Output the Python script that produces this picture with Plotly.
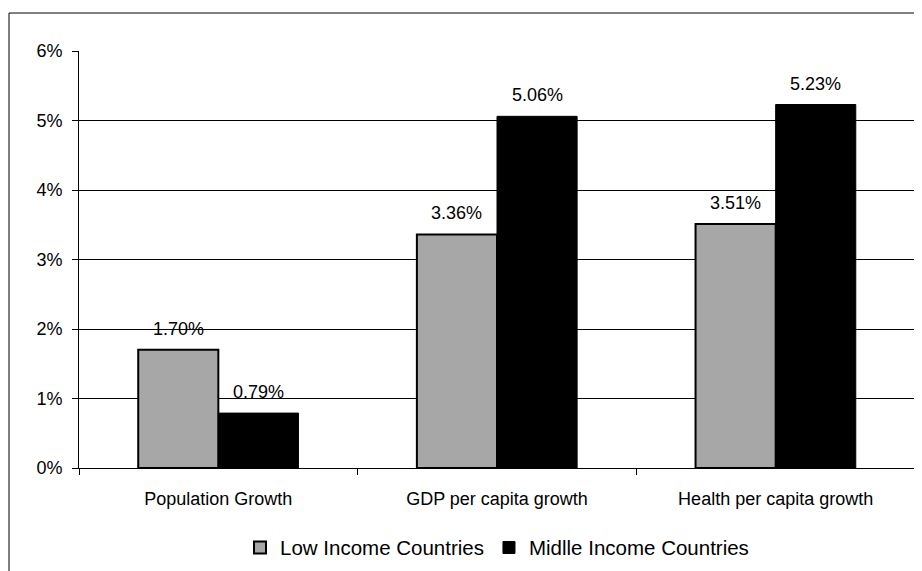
import plotly.graph_objects as go

categories = ["Population Growth", "GDP per capita growth", "Health per capita growth"]
low_income = [0.0170, 0.0336, 0.0351]
middle_income = [0.0079, 0.0506, 0.0523]
series_names = ["Low Income Countries", "Midlle Income Countries"]

# page has an 8px body margin, so the figure is 8px smaller than the window
W, H = 914, 563
L, R, T, B = 71, 7, 43, 103
pw, ph = W - L - R, H - T - B
BARGAP = 0.425
bar_px = pw / len(categories) * (1 - BARGAP) / 2

font = dict(family="Liberation Sans, Arial, sans-serif", size=18, color="black")
legend_font = dict(family="Liberation Sans, Arial, sans-serif", size=20.5, color="black")

fig = go.Figure()
fig.add_trace(go.Bar(
    x=categories, y=low_income, name=series_names[0],
    marker=dict(color="white", line=dict(color="black", width=2),
                pattern=dict(shape=".", fgcolor="#000000", bgcolor="#ffffff", size=2, solidity=0.65)),
))
fig.add_trace(go.Bar(
    x=categories, y=middle_income, name=series_names[1],
    marker=dict(color="black", line=dict(color="black", width=1)),
))

annotations = []
for series, side in ((low_income, -1), (middle_income, 1)):
    for c, v in zip(categories, series):
        annotations.append(dict(
            x=c, y=v, xref="x", yref="y", text=f"{v*100:.2f}%", showarrow=False,
            xshift=side * bar_px / 2, yshift=21, yanchor="middle", font=font,
        ))

fig.update_layout(
    width=W, height=H,
    margin=dict(l=L, r=R, t=T, b=B, autoexpand=False),
    paper_bgcolor="white", plot_bgcolor="white",
    font=font,
    barmode="group", bargap=BARGAP, bargroupgap=0,
    showlegend=True,
    legend=dict(orientation="h", x=0.5, xanchor="center", y=-0.191, yanchor="middle",
                font=legend_font, itemwidth=30, traceorder="normal", tracegroupgap=0),
    xaxis=dict(showline=True, linecolor="black", linewidth=1, ticks="outside", tickson="boundaries",
               ticklen=6, tickcolor="black", showgrid=False, tickfont=font, ticklabelstandoff=14,
               automargin=False),
    yaxis=dict(range=[0, 0.06], dtick=0.01, tickformat=".0%", showline=True, linecolor="black",
               linewidth=1, ticks="outside", ticklen=6, tickcolor="black", showgrid=True,
               gridcolor="black", gridwidth=1, tickfont=font, zeroline=False, ticklabelstandoff=6,
               automargin=False),
    annotations=annotations,
    shapes=[dict(type="rect", xref="paper", yref="paper",
                 x0=(1 - L) / pw, x1=(930 - L) / pw,
                 y0=(H - B - 580) / ph, y1=(H - B - 5) / ph,
                 line=dict(color="black", width=1), fillcolor="rgba(0,0,0,0)", layer="below")],
)

fig.write_html("out.html")
